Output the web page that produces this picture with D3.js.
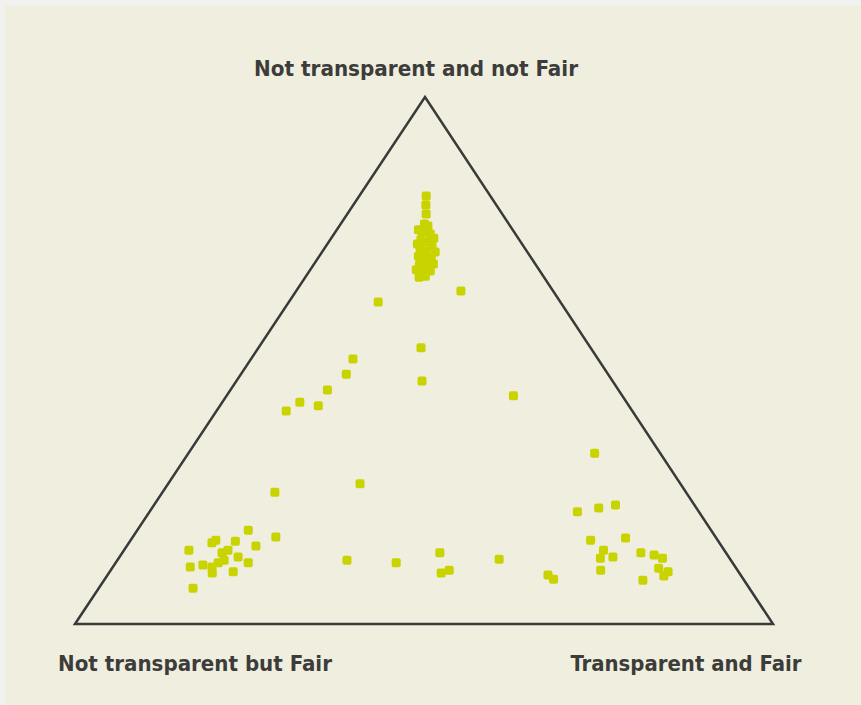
<!DOCTYPE html>
<html>
<head>
<meta charset="utf-8">
<script src="https://cdn.jsdelivr.net/npm/d3@7"></script>
<style>
  body { margin: 0; background: #f1f1ef; }
  svg { display: block; }
</style>
</head>
<body>
<svg id="chart" width="861" height="705"></svg>
<script>
// corner labels of the ternary plot
var cornerTop = 'Not transparent and not Fair'
var cornerLeft = 'Not transparent but Fair'
var cornerRight = 'Transparent and Fair'

// share (%) of each point towards the top corner
var topShare = [81.2, 79.5, 77.8, 75.9, 75.5, 74.4, 74.0, 72.9, 72.5, 71.7,
  71.3, 70.8, 69.8, 69.3, 69.3, 68.1, 67.7, 66.8, 67.0, 65.8,
  74.8, 73.2, 72.1, 70.6, 68.7, 68.3, 67.2, 66.0,
  63.2, 61.1, 52.4, 50.3, 47.4, 46.1, 44.4, 42.1, 41.4, 40.4,
  43.3, 32.4, 25.0, 26.6, 16.5, 12.1, 11.6, 13.5, 9.7, 10.2,
  12.3, 9.3, 8.5,
  17.8, 14.8, 14.0, 15.4, 15.9, 15.7, 13.5, 12.7, 10.8, 11.2,
  10.8, 11.6, 12.1, 9.9, 11.6, 9.7, 6.8, 14.0,
  21.3, 22.0, 22.6, 15.9, 16.3, 14.0, 12.5, 12.7, 13.5, 13.1,
  12.5, 10.6, 9.9, 10.2, 8.3, 9.1]

// share (%) of each point towards the bottom right corner
var rightShare = [9.6, 10.4, 11.3, 12.0, 12.7, 12.4, 13.8, 13.0, 14.2, 15.2,
  13.7, 14.8, 14.2, 15.3, 16.3, 15.2, 16.5, 16.1, 17.3, 16.3,
  11.7, 14.7, 12.9, 16.2, 15.3, 17.1, 15.2, 17.1,
  23.6, 12.8, 23.3, 14.6, 15.1, 26.6, 13.9, 11.1, 14.1, 10.0,
  41.1, 58.2, 16.1, 27.5, 20.5, 32.9, 40.2, 45.5, 47.6, 48.5,
  54.6, 63.1, 64.3,
  15.9, 18.5, 9.3, 11.9, 12.2, 15.1, 14.3, 17.0, 11.1, 12.7,
  14.2, 14.7, 15.3, 17.7, 19.0, 14.8, 13.5, 14.9,
  61.3, 64.0, 66.1, 65.9, 70.7, 68.7, 69.0, 70.7, 74.3, 76.4,
  77.9, 78.3, 80.0, 70.2, 77.2, 79.8]

// the rest goes to the bottom left corner
var leftShare = topShare.map(function (t, i) { return 100 - t - rightShare[i] })

var svg = d3.select('#chart')

// beige panel
svg.append('rect')
  .attr('x', 5).attr('y', 6)
  .attr('width', 856).attr('height', 699)
  .attr('fill', '#f0efdf')

var apex = [425, 97]
var baseY = 624
var baseLeft = 75
var baseRight = 773

var yTop = d3.scaleLinear().domain([0, 100]).range([baseY, apex[1]])
var xEdge = d3.scaleLinear().domain([0, 100]).range([baseLeft, apex[0]])
var xRight = d3.scaleLinear().domain([0, 100]).range([0, baseRight - baseLeft])

var points = topShare.map(function (t, i) {
  return { top: t, right: rightShare[i], left: leftShare[i] }
})

svg.append('path')
  .attr('d', d3.line()([[baseLeft, baseY], apex, [baseRight, baseY]]) + 'Z')
  .attr('fill', 'none')
  .attr('stroke', '#3a3a38')
  .attr('stroke-width', 2.5)
  .attr('stroke-linejoin', 'miter')

var size = 9
svg.selectAll('rect.pt')
  .data(points)
  .enter().append('rect')
  .attr('class', 'pt')
  .attr('x', function (d) { return xEdge(d.top) + xRight(d.right) - size / 2 })
  .attr('y', function (d) { return yTop(d.top) - size / 2 })
  .attr('width', size)
  .attr('height', size)
  .attr('rx', 2)
  .attr('fill', '#c8d300')

var labels = [
  { text: cornerTop, x: 416, y: 76, w: 324 },
  { text: cornerLeft, x: 195, y: 671, w: 274 },
  { text: cornerRight, x: 686, y: 671, w: 231 }
]

svg.selectAll('text.corner')
  .data(labels)
  .enter().append('text')
  .attr('class', 'corner')
  .attr('x', function (d) { return d.x })
  .attr('y', function (d) { return d.y })
  .attr('text-anchor', 'middle')
  .attr('textLength', function (d) { return d.w })
  .attr('lengthAdjust', 'spacingAndGlyphs')
  .attr('font-family', 'DejaVu Sans Condensed, DejaVu Sans')
  .attr('font-size', '21px')
  .attr('font-weight', 'bold')
  .attr('fill', '#3c3c3a')
  .text(function (d) { return d.text })
</script>
</body>
</html>
